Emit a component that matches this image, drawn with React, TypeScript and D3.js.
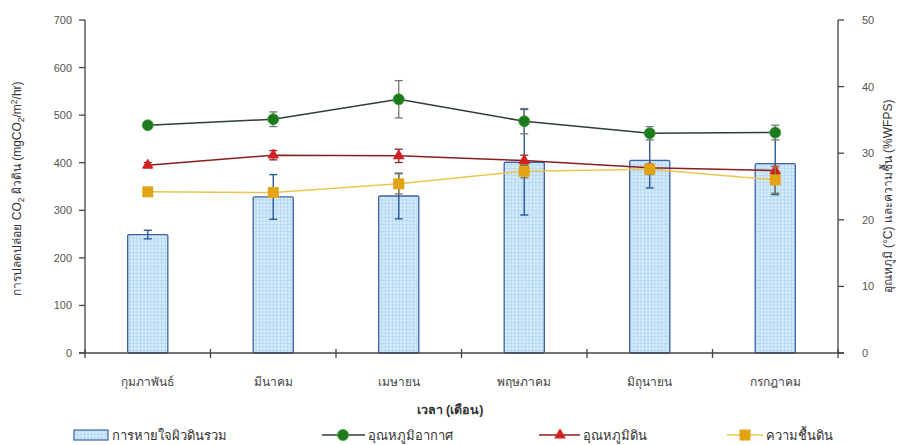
import React from "react";
import * as d3 from "d3";

const months = ["กุมภาพันธ์", "มีนาคม", "เมษายน", "พฤษภาคม", "มิถุนายน", "กรกฎาคม"];
const respiration = [249, 328, 330, 401, 405, 398];
const respirationErr = [9, 47, 48, 111, 58, 65];
const airTemp = [34.2, 35.1, 38.1, 34.8, 33.0, 33.1];
const airTempErr = [0.4, 1.1, 2.8, 1.9, 1.0, 1.1];
const soilTemp = [28.2, 29.7, 29.6, 28.9, 27.8, 27.4];
const soilTempErr = [0.4, 0.7, 1.0, 0.8, 0.5, 0.6];
const moisture = [24.2, 24.1, 25.4, 27.3, 27.6, 26.0];
const moistureErr = [0.4, 0.5, 1.5, 1.0, 0.8, 2.0];
const leftTicks = [0, 100, 200, 300, 400, 500, 600, 700];
const rightTicks = [0, 10, 20, 30, 40, 50];

const W = 901, H = 445;
const L = 85, R = 838, T = 20, B = 353;
const FONT = "'Liberation Sans', Arial, sans-serif";

export default function App() {
  const x = d3.scaleBand<string>().domain(months).range([L, R]).paddingInner(0.68).paddingOuter(0.34);
  const yL = d3.scaleLinear().domain([0, 700]).range([B, T]);
  const yR = d3.scaleLinear().domain([0, 50]).range([B, T]);
  const cx = (i: number) => (x(months[i]) as number) + x.bandwidth() / 2;
  const step = (R - L) / months.length;
  const line = d3.line<number>().x((_, i) => cx(i)).y((d) => yR(d));

  const series = [
    { vals: airTemp, err: airTempErr, line: "#2f3f2f", mark: "#1d7a1d", errC: "#777", shape: "circle" },
    { vals: soilTemp, err: soilTempErr, line: "#8a1f1f", mark: "#d42020", errC: "#7a2a2a", shape: "triangle" },
    { vals: moisture, err: moistureErr, line: "#e8c550", mark: "#e2a415", errC: "#8a7a50", shape: "square" },
  ];

  const marker = (shape: string, px: number, py: number, fill: string, key: string) => {
    if (shape === "circle") return <circle key={key} cx={px} cy={py} r={5.5} fill={fill} stroke="#3a9a3a" strokeWidth={0.8} />;
    if (shape === "triangle")
      return <path key={key} d={d3.symbol(d3.symbolTriangle, 60)() as string} transform={`translate(${px},${py})`} fill={fill} />;
    return <rect key={key} x={px - 5.5} y={py - 5.5} width={11} height={11} fill={fill} />;
  };

  return (
    <svg width={W} height={H} style={{ position: "absolute", left: 0, top: 0, background: "#fff" }} fontFamily={FONT}>
      <defs>
        <pattern id="grid" width={3.5} height={3.5} patternUnits="userSpaceOnUse">
          <rect width={3.5} height={3.5} fill="#d3ebfa" />
          <path d="M0 0.5H3.5M0.5 0V3.5" stroke="#a9d0ec" strokeWidth={0.6} />
        </pattern>
      </defs>

      {respiration.map((v, i) => (
        <rect key={"b" + i} x={x(months[i])} y={yL(v)} width={x.bandwidth()} height={B - yL(v)} fill="url(#grid)" stroke="#3f62a8" strokeWidth={1.3} rx={1.5} />
      ))}
      {respiration.map((v, i) => (
        <g key={"be" + i} stroke="#2a5a9a" strokeWidth={1.4}>
          <line x1={cx(i)} x2={cx(i)} y1={yL(v + respirationErr[i])} y2={yL(v - respirationErr[i])} />
          <line x1={cx(i) - 4} x2={cx(i) + 4} y1={yL(v + respirationErr[i])} y2={yL(v + respirationErr[i])} />
          <line x1={cx(i) - 4} x2={cx(i) + 4} y1={yL(v - respirationErr[i])} y2={yL(v - respirationErr[i])} />
        </g>
      ))}

      {series.map((s, si) => (
        <g key={"s" + si}>
          <path d={line(s.vals) as string} fill="none" stroke={s.line} strokeWidth={1.5} />
          {s.vals.map((v, i) => (
            <g key={"e" + i} stroke={s.errC} strokeWidth={1.3}>
              <line x1={cx(i)} x2={cx(i)} y1={yR(v + s.err[i])} y2={yR(v - s.err[i])} />
              <line x1={cx(i) - 4} x2={cx(i) + 4} y1={yR(v + s.err[i])} y2={yR(v + s.err[i])} />
              <line x1={cx(i) - 4} x2={cx(i) + 4} y1={yR(v - s.err[i])} y2={yR(v - s.err[i])} />
            </g>
          ))}
          {s.vals.map((v, i) => marker(s.shape, cx(i), yR(v), s.mark, "m" + i))}
        </g>
      ))}

      <g stroke="#444" strokeWidth={1.3}>
        <line x1={L} x2={L} y1={T} y2={B} />
        <line x1={R} x2={R} y1={T} y2={B} />
        <line x1={L - 6} x2={R + 6} y1={B} y2={B} />
        {leftTicks.map((t) => (
          <line key={"lt" + t} x1={L - 6} x2={L} y1={yL(t)} y2={yL(t)} />
        ))}
        {rightTicks.map((t) => (
          <line key={"rt" + t} x1={R} x2={R + 6} y1={yR(t)} y2={yR(t)} />
        ))}
        {d3.range(months.length + 1).map((k) => (
          <line key={"xt" + k} x1={L + k * step} x2={L + k * step} y1={B - 4} y2={B + 5} />
        ))}
      </g>
      <g fill="#555" fontSize={11}>
        {leftTicks.map((t) => (
          <text key={"ltl" + t} x={L - 13} y={yL(t) + 4} textAnchor="end">{t}</text>
        ))}
        {rightTicks.map((t) => (
          <text key={"rtl" + t} x={R + 24} y={yR(t) + 4} textAnchor="start">{t}</text>
        ))}
      </g>
      <g fill="#444" fontSize={12}>
        {months.map((m, i) => (
          <text key={"xl" + i} x={cx(i)} y={386} textAnchor="middle">{m}</text>
        ))}
      </g>
      <text x={450} y={414} textAnchor="middle" fontSize={12.5} fontWeight="bold" fill="#333">เวลา (เดือน)</text>
      <text transform={`translate(21,${(T + B) / 2 + 2}) rotate(-90)`} textAnchor="middle" fontSize={12} fill="#333">
        การปลดปล่อย CO<tspan dy={3} fontSize={8.5}>2</tspan><tspan dy={-3}> ผิวดิน (mgCO</tspan><tspan dy={3} fontSize={8.5}>2</tspan><tspan dy={-3}>/m</tspan><tspan dy={-4} fontSize={8.5}>2</tspan><tspan dy={4}>/hr)</tspan>
      </text>
      <text transform={`translate(892,${(T + B) / 2 + 10}) rotate(-90)`} textAnchor="middle" fontSize={12} fill="#333">
        อุณหภูมิ (°C) และความชื้น (%WFPS)
      </text>

      <g fontSize={13} fill="#333">
        <rect x={74} y={430} width={34} height={10} fill="url(#grid)" stroke="#3f62a8" strokeWidth={1.2} />
        <text x={112} y={440}>การหายใจผิวดินรวม</text>
        <line x1={322} x2={365} y1={435} y2={435} stroke={series[0].line} strokeWidth={1.5} />
        {marker("circle", 343, 435, series[0].mark, "lg0")}
        <text x={368} y={440}>อุณหภูมิอากาศ</text>
        <line x1={539} x2={580} y1={435} y2={435} stroke={series[1].line} strokeWidth={1.5} />
        {marker("triangle", 560, 435, series[1].mark, "lg1")}
        <text x={583} y={440}>อุณหภูมิดิน</text>
        <line x1={727} x2={763} y1={435} y2={435} stroke={series[2].line} strokeWidth={1.5} />
        {marker("square", 745, 435, series[2].mark, "lg2")}
        <text x={766} y={440}>ความชื้นดิน</text>
      </g>
    </svg>
  );
}
